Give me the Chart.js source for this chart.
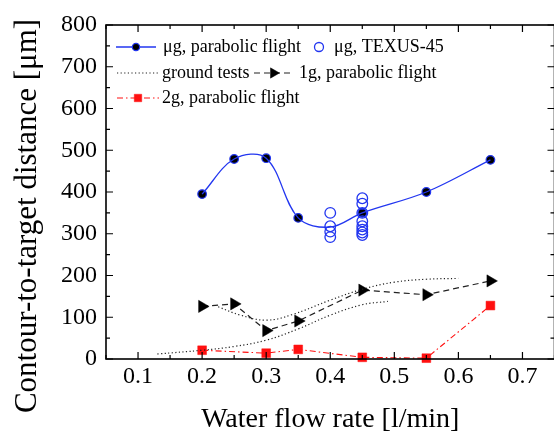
<!DOCTYPE html>
<html>
<head>
<meta charset="utf-8">
<script src="https://cdn.jsdelivr.net/npm/chart.js@4.4.0/dist/chart.umd.min.js"></script>
<style>
  html, body { margin: 0; padding: 0; background: #fff; overflow: hidden; }
  #wrap { width: 554px; height: 436px; overflow: hidden; }
  canvas { display: block; }
</style>
</head>
<body>
<div id="wrap"><canvas id="chart" width="562" height="436"></canvas></div>
<script>
// axis ticks
const flowTicks = [0.1, 0.2, 0.3, 0.4, 0.5, 0.6, 0.7];
const flowMinor = [0.05, 0.15, 0.25, 0.35, 0.45, 0.55, 0.65, 0.75];
const distTicks = [0, 100, 200, 300, 400, 500, 600, 700, 800];
const distMinor = [50, 150, 250, 350, 450, 550, 650, 750];

// μg, parabolic flight (measured points + fitted curve)
const ugFlow = [0.2, 0.25, 0.3, 0.35, 0.45, 0.55, 0.65];
const ugDist = [395, 479, 481, 338, 350, 400, 477];
const ugFitFlow = [0.2, 0.25, 0.3, 0.35, 0.4, 0.45, 0.55, 0.65];
const ugFitDist = [395, 479, 481, 338, 316, 350, 400, 477];

// μg, TEXUS-45
const texusFlow = [0.4, 0.4, 0.4, 0.4, 0.45, 0.45, 0.45, 0.45, 0.45, 0.45, 0.45, 0.45];
const texusDist = [350, 318, 305, 292, 385, 372, 350, 330, 318, 310, 303, 297];

// ground tests (two runs)
const groundAFlow = [0.13, 0.2, 0.25, 0.3, 0.35, 0.4, 0.45, 0.49];
const groundADist = [12, 21, 30, 45, 72, 105, 130, 138];
const groundBFlow = [0.225, 0.26, 0.3, 0.34, 0.4, 0.45, 0.5, 0.55, 0.6];
const groundBDist = [125, 105, 93, 106, 141, 167, 184, 191, 193];

// 1g, parabolic flight
const oneGFlow = [0.2, 0.25, 0.3, 0.35, 0.45, 0.55, 0.65];
const oneGDist = [126, 132, 68, 91, 165, 154, 187];

// 2g, parabolic flight
const twoGFlow = [0.2, 0.3, 0.35, 0.45, 0.55, 0.65];
const twoGDist = [21, 14, 23, 4, 2, 128];

const pts = (xs, ys) => xs.map((x, i) => ({ x: x, y: ys[i] }));

const BLUE = '#2236f0';
const RED = '#ff1010';
const SERIF = '"Liberation Serif", "Times New Roman", serif';

const datasets = [
  { label: 'ground tests', data: pts(groundAFlow, groundADist), borderColor: '#222', borderWidth: 1.2,
    borderDash: [1.2, 2.4], pointRadius: 0, tension: 0.4, fill: false },
  { label: 'ground tests', data: pts(groundBFlow, groundBDist), borderColor: '#222', borderWidth: 1.2,
    borderDash: [1.2, 2.4], pointRadius: 0, tension: 0.4, fill: false },
  { label: '2g, parabolic flight', data: pts(twoGFlow, twoGDist), borderColor: RED, borderWidth: 1.1,
    borderDash: [6, 3, 1.5, 3], pointStyle: 'rect', pointRadius: 6.2, pointBackgroundColor: RED,
    pointBorderColor: RED, pointBorderWidth: 0.5, tension: 0 },
  { label: '1g, parabolic flight', data: pts(oneGFlow, oneGDist), borderColor: '#222', borderWidth: 1.2,
    borderDash: [6, 4], pointStyle: 'triangle', pointRotation: 90, pointRadius: 7,
    pointBackgroundColor: '#000', pointBorderColor: '#000', pointBorderWidth: 0.5, tension: 0 },
  { label: 'μg fit', data: pts(ugFitFlow, ugFitDist), borderColor: BLUE, borderWidth: 1.3,
    pointRadius: 0, tension: 0.35, cubicInterpolationMode: 'default' },
  { label: 'μg, TEXUS-45', data: pts(texusFlow, texusDist), showLine: false, pointStyle: 'circle',
    pointRadius: 5.3, pointBackgroundColor: 'rgba(255,255,255,0)', pointBorderColor: BLUE, pointBorderWidth: 1.3 },
  { label: 'μg, parabolic flight', data: pts(ugFlow, ugDist), showLine: false, pointStyle: 'circle',
    pointRadius: 4.3, pointBackgroundColor: '#000', pointBorderColor: BLUE, pointBorderWidth: 1.2 }
];
datasets.forEach(d => { d.clip = false; });

// legend rows drawn inside the plot: [label, sample x0, sample x1, text x, row y, marker dataset, line dataset]
const legendItems = [
  ['μg, parabolic flight', 116, 156, 163, 47, 6, 4],
  ['μg, TEXUS-45', 312, 326, 334, 47, 5, -1],
  ['ground tests', 117, 159, 162, 73, -1, 0],
  ['1g, parabolic flight', 254, 293, 299, 73, 3, 3],
  ['2g, parabolic flight', 117, 159, 162, 98, 2, 2]
];

const framePlugin = {
  id: 'frame',
  afterDraw(chart) {
    const { ctx, chartArea: a, scales: { x, y } } = chart;
    ctx.save();
    ctx.strokeStyle = '#000';
    ctx.lineWidth = 1.6;
    ctx.strokeRect(a.left, a.top, a.right - a.left, a.bottom - a.top);
    ctx.lineWidth = 1.2;
    ctx.beginPath();
    const tickX = (v, len) => {
      const px = x.getPixelForValue(v);
      ctx.moveTo(px, a.bottom); ctx.lineTo(px, a.bottom - len);
      ctx.moveTo(px, a.top); ctx.lineTo(px, a.top + len);
    };
    const tickY = (v, len) => {
      const py = y.getPixelForValue(v);
      ctx.moveTo(a.left, py); ctx.lineTo(a.left + len, py);
      ctx.moveTo(a.right, py); ctx.lineTo(a.right - len, py);
    };
    flowTicks.forEach(v => tickX(v, 7));
    flowMinor.forEach(v => tickX(v, 4));
    distTicks.forEach(v => tickY(v, 7));
    distMinor.forEach(v => tickY(v, 4));
    ctx.stroke();

    // legend
    ctx.font = '18px ' + SERIF;
    ctx.textBaseline = 'middle';
    ctx.textAlign = 'left';
    legendItems.forEach(([text, x0, x1, tx, ry, markIdx, lineIdx]) => {
      if (lineIdx >= 0) {
        const ds = chart.data.datasets[lineIdx];
        ctx.save();
        ctx.strokeStyle = ds.borderColor;
        ctx.lineWidth = ds.borderWidth;
        ctx.setLineDash(ds.borderDash || []);
        ctx.beginPath();
        ctx.moveTo(x0, ry); ctx.lineTo(x1, ry);
        ctx.stroke();
        ctx.restore();
      }
      if (markIdx >= 0) {
        const ds = chart.data.datasets[markIdx];
        ctx.save();
        ctx.fillStyle = ds.pointBackgroundColor;
        ctx.strokeStyle = ds.pointBorderColor;
        ctx.lineWidth = ds.pointBorderWidth;
        Chart.helpers.drawPoint(ctx, {
          pointStyle: ds.pointStyle, radius: ds.pointRadius * 0.85,
          rotation: ds.pointRotation || 0, borderWidth: ds.pointBorderWidth
        }, (x0 + x1) / 2, ry);
        ctx.restore();
      }
      ctx.fillStyle = '#000';
      ctx.fillText(text, tx, ry);
    });

    // y axis title
    ctx.save();
    ctx.translate(28, 216);
    ctx.rotate(-Math.PI / 2);
    ctx.font = '31px ' + SERIF;
    ctx.textAlign = 'center';
    ctx.fillText('Contour-to-target distance [μm]', 0, 0);
    ctx.restore();
    ctx.restore();
  }
};

new Chart(document.getElementById('chart'), {
  type: 'line',
  data: { datasets: datasets },
  plugins: [framePlugin],
  options: {
    responsive: false,
    animation: false,
    layout: { padding: { top: 25, right: 6, left: 0, bottom: 0 } },
    plugins: { legend: { display: false }, tooltip: { enabled: false } },
    scales: {
      x: {
        type: 'linear', min: 0.05, max: 0.75,
        grid: { display: false, drawTicks: false },
        border: { display: false },
        afterBuildTicks: s => { s.ticks = flowTicks.map(v => ({ value: v })); },
        afterFit: s => { s.height = 77; },
        ticks: { color: '#000', padding: 3, font: { family: SERIF, size: 24 },
                 callback: v => v.toFixed(1) },
        title: { display: true, text: 'Water flow rate [l/min]', color: '#000',
                 font: { family: SERIF, size: 28 }, padding: { top: 0, bottom: 0 } }
      },
      y: {
        type: 'linear', min: 0, max: 800,
        grid: { display: false, drawTicks: false },
        border: { display: false },
        afterBuildTicks: s => { s.ticks = distTicks.map(v => ({ value: v })); },
        afterFit: s => { s.width = 106; },
        ticks: { color: '#000', padding: 9, font: { family: SERIF, size: 24 } }
      }
    }
  }
});
</script>
</body>
</html>
